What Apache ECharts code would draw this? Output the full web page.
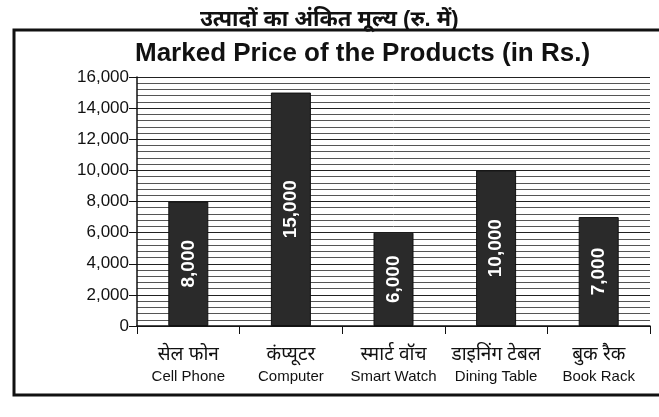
<!DOCTYPE html>
<html>
<head>
<meta charset="utf-8">
<script src="https://cdn.jsdelivr.net/npm/echarts@6/dist/echarts.min.js"></script>
<style>
  html, body { margin: 0; padding: 0; background: #fff; }
  #chart { width: 659px; height: 417px; }
</style>
</head>
<body>
<div id="chart"></div>
<script>
// product names, hindi + english
var hindiNames = ['सेल फोन', 'कंप्यूटर', 'स्मार्ट वॉच', 'डाइनिंग टेबल', 'बुक रैक'];
var englishNames = ['Cell Phone', 'Computer', 'Smart Watch', 'Dining Table', 'Book Rack'];
var prices = [8000, 15000, 6000, 10000, 7000];

var titleHindi = 'उत्पादों का अंकित मूल्य (रु. में)';
var titleEnglish = 'Marked Price of the Products (in Rs.)';

var chart = echarts.init(document.getElementById('chart'));

function commas(v) {
  return String(v).replace(/\B(?=(\d{3})+(?!\d))/g, ',');
}

var font = '"Liberation Sans", Arial, "Noto Sans", sans-serif';

var option = {
  backgroundColor: '#fff',
  animation: false,
  title: [
    {
      text: titleHindi,
      left: 195,
      top: 4,
      textStyle: { fontSize: 22, fontWeight: 'bold', color: '#111', fontFamily: font }
    },
    {
      text: titleEnglish,
      left: 130,
      top: 36,
      textStyle: { fontSize: 26, fontWeight: 'bold', color: '#111', fontFamily: font }
    }
  ],
  graphic: [
    {
      type: 'rect',
      shape: { x: 14, y: 30, width: 700, height: 365 },
      style: { fill: 'none', stroke: '#111', lineWidth: 3 },
      z: -1
    }
  ],
  grid: { left: 137, right: 9, top: 77, bottom: 91 },
  xAxis: {
    type: 'category',
    data: englishNames.map(function (e, i) { return i; }),
    axisLine: { lineStyle: { color: '#111', width: 1.5 } },
    axisTick: { show: true, alignWithLabel: false, length: 8, lineStyle: { color: '#111' } },
    axisLabel: {
      interval: 0,
      margin: 17,
      formatter: function (v) {
        var i = Number(v);
        return '{h|' + hindiNames[i] + '}\n{e|' + englishNames[i] + '}';
      },
      rich: {
        h: { fontSize: 19, color: '#111', fontFamily: font, lineHeight: 24 },
        e: { fontSize: 15, color: '#111', fontFamily: font, lineHeight: 20 }
      }
    }
  },
  yAxis: {
    type: 'value',
    min: 0,
    max: 16000,
    interval: 2000,
    axisLine: { show: true, lineStyle: { color: '#111', width: 1.5 } },
    axisTick: { show: true, length: 8, lineStyle: { color: '#111' } },
    axisLabel: {
      fontSize: 17,
      color: '#111',
      fontFamily: font,
      margin: 8,
      formatter: function (v) { return commas(v); }
    },
    splitLine: { show: true, lineStyle: { color: '#222', width: 1.2 } },
    minorTick: { show: false, splitNumber: 5 },
    minorSplitLine: { show: true, lineStyle: { color: '#555', width: 1 } }
  },
  series: [
    {
      type: 'bar',
      data: prices,
      barWidth: 40,
      itemStyle: { color: '#2a2a2a', borderColor: '#111', borderWidth: 1 },
      label: {
        show: true,
        position: 'inside',
        rotate: 90,
        color: '#fff',
        fontSize: 19,
        fontWeight: 'bold',
        fontFamily: font,
        formatter: function (p) { return commas(p.value); }
      }
    }
  ]
};

chart.setOption(option);
</script>
</body>
</html>
